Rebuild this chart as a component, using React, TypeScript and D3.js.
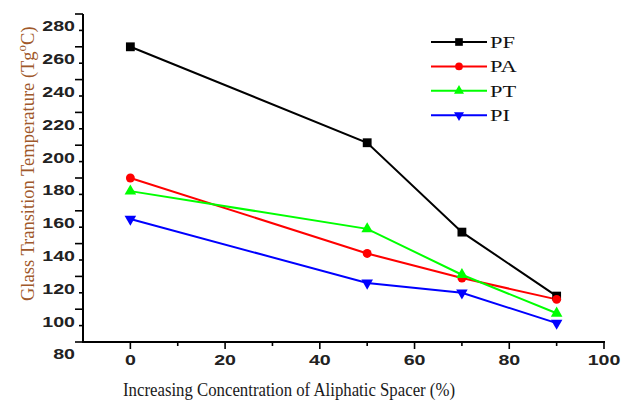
import React from "react";
import * as d3 from "d3";

const xValues = [0, 50, 70, 90];
const seriesNames = ["PF", "PA", "PT", "PI"];
const pfValues = [270, 211.5, 157, 118];
const paValues = [190, 144, 129, 116];
const ptValues = [182, 159, 131, 107.5];
const piValues = [165, 126, 120, 101.5];
const seriesColors = ["#000000", "#ff0000", "#00ff00", "#0000ff"];
const seriesSymbols = ["square", "circle", "triangle", "triangleDown"];
const yTickLabels = [280, 260, 240, 220, 200, 180, 160, 140, 120, 100, 80];
const yLongTicks = [290, 270, 250, 230, 210, 190, 170, 150, 130, 110, 90];
const xTickLabels = [0, 20, 40, 60, 80, 100];
const xMinorTicks = [10, 30, 50, 70, 90];
const xTitle = "Increasing Concentration of Aliphatic Spacer (%)";

const W = 622;
const H = 400;

export default function App() {
  const x = d3.scaleLinear().domain([-10, 100]).range([83, 604]);
  const y = d3.scaleLinear().domain([90, 290]).range([342, 14]);
  const allValues = [pfValues, paValues, ptValues, piValues];
  const line = d3
    .line<[number, number]>()
    .x((d) => x(d[0]))
    .y((d) => y(d[1]));

  const symbolPath = (kind: string, scale = 1) => {
    if (kind === "square") return d3.symbol(d3.symbolSquare, 78 * scale)()!;
    if (kind === "circle") return d3.symbol(d3.symbolCircle, 62 * scale)()!;
    return d3.symbol(d3.symbolTriangle, 58 * scale)()!;
  };

  const axisX0 = x(-10);
  const axisY0 = y(90);

  return (
    <div style={{ position: "absolute", left: 0, top: 0 }}>
      <svg width={W} height={H} style={{ display: "block", background: "#fff" }}>
        <rect x={0} y={0} width={W} height={H} fill="#fff" />
        {allValues.map((vals, i) => (
          <path
            key={"l" + i}
            d={line(xValues.map((xv, j) => [xv, vals[j]] as [number, number]))!}
            fill="none"
            stroke={seriesColors[i]}
            strokeWidth={2}
          />
        ))}
        {allValues.map((vals, i) =>
          xValues.map((xv, j) => (
            <path
              key={"m" + i + "-" + j}
              d={symbolPath(seriesSymbols[i])}
              transform={`translate(${x(xv)},${y(vals[j])})${seriesSymbols[i] === "triangleDown" ? " rotate(180)" : ""}`}
              fill={seriesColors[i]}
            />
          ))
        )}
        <line x1={axisX0} y1={y(290)} x2={axisX0} y2={axisY0 + 1} stroke="#000" strokeWidth={2} />
        <line x1={axisX0 - 1} y1={axisY0} x2={x(100) + 1} y2={axisY0} stroke="#000" strokeWidth={2} />
        {yLongTicks.map((t) => (
          <line key={"yl" + t} x1={axisX0 - 8} x2={axisX0} y1={y(t)} y2={y(t)} stroke="#000" strokeWidth={1.6} />
        ))}
        {yTickLabels
          .filter((t) => t >= 100)
          .map((t) => (
            <line key={"ys" + t} x1={axisX0 - 4} x2={axisX0} y1={y(t)} y2={y(t)} stroke="#000" strokeWidth={1.6} />
          ))}
        {yTickLabels.map((t) => (
          <text
            key={"yt" + t}
            transform={`translate(75,${y(t) + 1}) scale(1.4,1)`}
            textAnchor="end"
            fontFamily="Liberation Sans, Arial, sans-serif"
            fontWeight="bold"
            fontSize={14}
            fill="#222"
          >
            {t}
          </text>
        ))}
        {xTickLabels.map((t) => (
          <line key={"xl" + t} x1={x(t)} x2={x(t)} y1={axisY0} y2={axisY0 + 7} stroke="#000" strokeWidth={1.6} />
        ))}
        {xMinorTicks.map((t) => (
          <line key={"xm" + t} x1={x(t)} x2={x(t)} y1={axisY0} y2={axisY0 + 4} stroke="#000" strokeWidth={1.6} />
        ))}
        {xTickLabels.map((t) => (
          <text
            key={"xt" + t}
            transform={`translate(${x(t)},365) scale(1.4,1)`}
            textAnchor="middle"
            fontFamily="Liberation Sans, Arial, sans-serif"
            fontWeight="bold"
            fontSize={14}
            fill="#222"
          >
            {t}
          </text>
        ))}
        <text
          x={123}
          y={396}
          fontFamily="Liberation Serif, Times New Roman, serif"
          fontSize={19.5}
          textLength={332}
          lengthAdjust="spacingAndGlyphs"
          fill="#1a1a1a"
        >
          {xTitle}
        </text>
        <text
          transform="translate(34,301) rotate(-90)"
          fontFamily="Liberation Serif, Times New Roman, serif"
          fontSize={18.5}
          fill="#a0582a"
        >
          <tspan>Glass Transition Temperature (Tg</tspan>
          <tspan dy={-8} fontSize={13}>o</tspan>
          <tspan dy={8}>C)</tspan>
        </text>
        {seriesNames.map((name, i) => {
          const ly = 42 + i * 24.4;
          return (
            <g key={"lg" + i}>
              <line x1={431} x2={487} y1={ly} y2={ly} stroke={seriesColors[i]} strokeWidth={2} />
              <path
                d={symbolPath(seriesSymbols[i], 0.75)}
                transform={`translate(459,${ly})${seriesSymbols[i] === "triangleDown" ? " rotate(180)" : ""}`}
                fill={seriesColors[i]}
              />
              <text
                transform={`translate(490,${ly + 6}) scale(1.4,1)`}
                fontFamily="Liberation Serif, Times New Roman, serif"
                fontSize={16}
                fill="#111"
              >
                {name}
              </text>
            </g>
          );
        })}
      </svg>
    </div>
  );
}
